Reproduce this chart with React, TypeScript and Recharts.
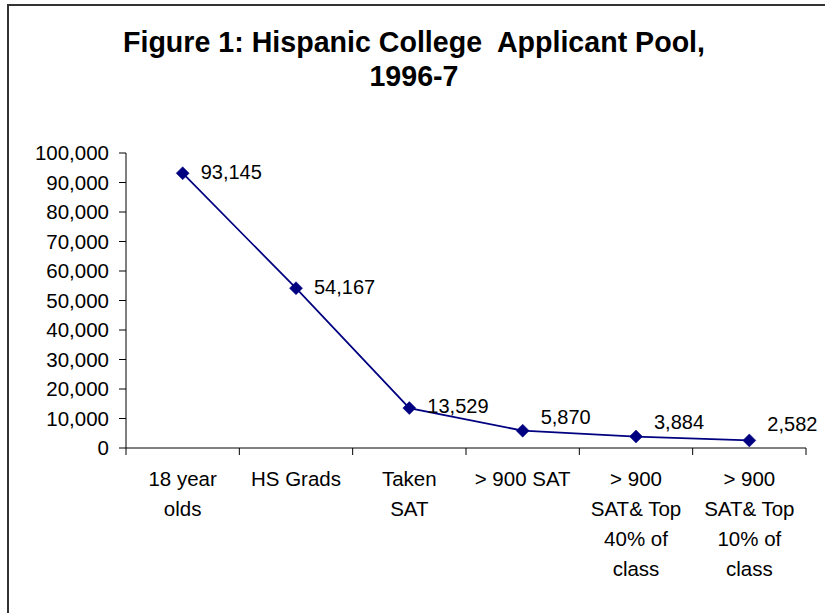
import React from 'react';
import { LineChart, Line, XAxis, YAxis, LabelList } from 'recharts';

// Applicant pool stages (line breaks follow the wrapped axis labels)
const categories = [
  '18 year\nolds',
  'HS Grads',
  'Taken\nSAT',
  '> 900 SAT',
  '> 900\nSAT& Top\n40% of\nclass',
  '> 900\nSAT& Top\n10% of\nclass',
];
const applicants = [93145, 54167, 13529, 5870, 3884, 2582];
const yTicks = [0, 10000, 20000, 30000, 40000, 50000, 60000, 70000, 80000, 90000, 100000];
const titleLines = ['Figure 1: Hispanic College  Applicant Pool,', '1996-7'];

const data = categories.map((name, i) => ({ name, applicants: applicants[i] }));

const FONT = '"Liberation Sans", Arial, Helvetica, sans-serif';
const NAVY = '#000080';
const AXIS = '#000000';

const W = 825;
const H = 613;
const margin = { top: 153, right: 19, bottom: 15, left: 8 };
const Y_AXIS_W = 118;
const plotW = W - margin.left - Y_AXIS_W - margin.right;
const step = plotW / categories.length;

const fmt = (v: number) => v.toLocaleString('en-US');

const Diamond = (props: any) => {
  const { cx, cy } = props;
  if (cx == null || cy == null) return null;
  const r = 6.5;
  return (
    <path
      d={`M${cx},${cy - r}L${cx + r},${cy}L${cx},${cy + r}L${cx - r},${cy}Z`}
      fill={NAVY}
      stroke={NAVY}
      strokeWidth={0.5}
    />
  );
};

// small values are nudged upward so their labels clear the axis
const labelLift = [1, 1, 2, 14, 15, 16];

const ValueLabel = (props: any) => {
  const { x, y, value, index } = props;
  return (
    <text
      x={x + 18}
      y={y - labelLift[index]}
      dominantBaseline="central"
      fontSize={20}
      fontFamily={FONT}
      fill="#000"
    >
      {fmt(value)}
    </text>
  );
};

const CategoryTick = (props: any) => {
  const { x, y, payload, index } = props;
  const lines = String(payload.value).split('\n');
  const left = x - step / 2;
  return (
    <g>
      <line x1={left} x2={left} y1={y} y2={y + 7} stroke={AXIS} strokeWidth={1} />
      {index === categories.length - 1 && (
        <line x1={x + step / 2} x2={x + step / 2} y1={y} y2={y + 7} stroke={AXIS} strokeWidth={1} />
      )}
      <text
        x={x}
        y={y + 30}
        textAnchor="middle"
        fontSize={20.5}
        fontFamily={FONT}
        fill="#000"
      >
        {lines.map((ln, i) => (
          <tspan key={i} x={x} y={y + 30 + i * 30} dominantBaseline="central">
            {ln}
          </tspan>
        ))}
      </text>
    </g>
  );
};

export default function App() {
  return (
    <div
      style={{
        position: 'absolute',
        left: 0,
        top: 0,
        width: W,
        height: H,
        overflow: 'hidden',
        background: '#fff',
      }}
    >
      <div
        style={{
          position: 'absolute',
          left: 7,
          top: 4,
          width: 1000,
          height: 1000,
          borderLeft: '2px solid #333',
          borderTop: '2px solid #333',
        }}
      />
      <svg width={W} height={H} style={{ position: 'absolute', left: 0, top: 0 }}>
        {titleLines.map((t, i) => (
          <text
            key={i}
            x={414}
            y={52 + i * 34}
            textAnchor="middle"
            fontSize={28.6}
            fontWeight="bold"
            fontFamily={FONT}
            fill="#000"
            style={{ whiteSpace: 'pre' }}
          >
            {t}
          </text>
        ))}
      </svg>
      <div style={{ position: 'absolute', left: 0, top: 0 }}>
        <LineChart width={W} height={H} data={data} margin={margin}>
          <XAxis
            dataKey="name"
            interval={0}
            padding={{ left: step / 2, right: step / 2 }}
            axisLine={{ stroke: AXIS, strokeWidth: 1 }}
            tickLine={false}
            tickSize={0}
            tickMargin={0}
            height={150}
            tick={<CategoryTick />}
          />
          <YAxis
            width={Y_AXIS_W}
            domain={[0, 100000]}
            ticks={yTicks}
            interval={0}
            tickFormatter={fmt}
            axisLine={{ stroke: AXIS, strokeWidth: 1 }}
            tickLine={{ stroke: AXIS, strokeWidth: 1 }}
            tickSize={7}
            tickMargin={10}
            tick={{ fontSize: 20.5, fontFamily: FONT, fill: '#000' }}
          />
          <Line
            type="linear"
            dataKey="applicants"
            stroke={NAVY}
            strokeWidth={1.75}
            dot={<Diamond />}
            activeDot={false}
            isAnimationActive={false}
          >
            <LabelList dataKey="applicants" content={<ValueLabel />} />
          </Line>
        </LineChart>
      </div>
    </div>
  );
}
